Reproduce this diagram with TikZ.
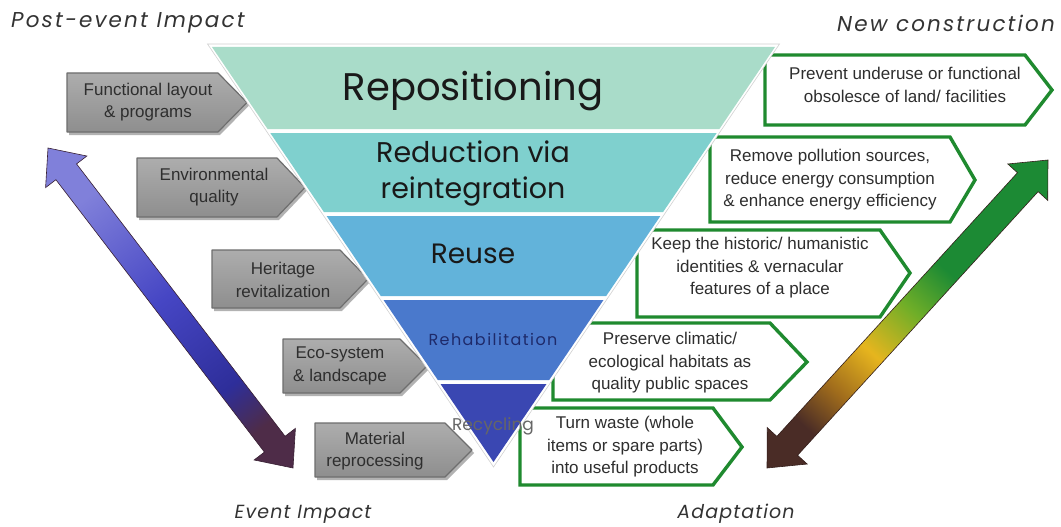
\documentclass[tikz,border=0pt]{standalone}
\usepackage{fontspec}
\setmainfont{Liberation Sans}
\newfontfamily\trifont{Poppins}
\newfontfamily\cornerfont{Poppins}
\usetikzlibrary{calc}
\definecolor{bandA}{HTML}{A9DCC9}
\definecolor{bandB}{HTML}{7FD0CE}
\definecolor{bandC}{HTML}{62B3DA}
\definecolor{bandD}{HTML}{4A79CC}
\definecolor{bandE}{HTML}{3A47B2}
\definecolor{grnline}{HTML}{1F8A2F}
\definecolor{grayfillA}{HTML}{ADADAD}
\definecolor{grayfillB}{HTML}{8E8E8E}
\definecolor{grayline}{HTML}{6E6E6E}
\definecolor{boxtext}{HTML}{2E2E2E}
\definecolor{larrA}{HTML}{8080DA}
\definecolor{larrB}{HTML}{4646C4}
\definecolor{larrC}{HTML}{2E2E9A}
\definecolor{larrD}{HTML}{4E2C48}
\definecolor{rarrA}{HTML}{1C8A34}
\definecolor{rarrB}{HTML}{6FAE28}
\definecolor{rarrC}{HTML}{E6B51E}
\definecolor{rarrD}{HTML}{A06C1C}
\definecolor{rarrE}{HTML}{4A2C26}
\definecolor{rehabtext}{HTML}{1E2A6A}
\pgfdeclareverticalshading{leftarr}{100bp}{color(0bp)=(larrD); color(24bp)=(larrD); color(33bp)=(larrC); color(52bp)=(larrB); color(74bp)=(larrA); color(100bp)=(larrA)}
\pgfdeclareverticalshading{rightarr}{100bp}{color(0bp)=(rarrE); color(24bp)=(rarrE); color(32bp)=(rarrD); color(41bp)=(rarrC); color(51bp)=(rarrB); color(60bp)=(rarrA); color(100bp)=(rarrA)}
\tikzset{
  graybox/.style={top color=grayfillA, bottom color=grayfillB, draw=grayline, line width=1.2pt, line join=round},
  grayshadow/.style={fill=black!30},
  greenbox/.style={fill=white, draw=grnline, line width=3.4pt, line join=miter},
  boxlabel/.style={font=\fontsize{17}{22.5}\selectfont, text=boxtext, align=center, inner sep=0pt},
  trilabel/.style={font=\trifont, text=black!90, inner sep=0pt, anchor=base},
  cornerlabel/.style={font=\cornerfont\itshape\fontsize{19}{22}\selectfont\addfontfeature{LetterSpace=6}, text=black!80, inner sep=0pt},
  bigcorner/.style={font=\cornerfont\itshape\fontsize{21.5}{24}\selectfont\addfontfeature{LetterSpace=10}, text=black!80, inner sep=0pt},
}
\begin{document}
\begin{tikzpicture}[x=1pt,y=-1pt]
\useasboundingbox (0,0) rectangle (1061,527);
\fill[white] (0,0) rectangle (1061,527);

% ---- double arrows ----
\coordinate (LA1) at (48,148);
\coordinate (LA2) at (293,468);
\coordinate (LH1) at ($(LA1)!30pt!(LA2)$);
\coordinate (LH2) at ($(LA2)!30pt!(LA1)$);
\shadedraw[shading=leftarr, shading angle=37.4, draw=larrD!70!black, line width=0.6pt, line join=miter]
  (LA1) -- ($(LH1)!26pt!90:(LA2)$) -- ($(LH1)!13pt!90:(LA2)$) -- ($(LH2)!13pt!-90:(LA1)$)
  -- ($(LH2)!26pt!-90:(LA1)$) -- (LA2) -- ($(LH2)!26pt!90:(LA1)$) -- ($(LH2)!13pt!90:(LA1)$)
  -- ($(LH1)!13pt!-90:(LA2)$) -- ($(LH1)!26pt!-90:(LA2)$) -- cycle;

\coordinate (RA1) at (1048,160);
\coordinate (RA2) at (767,468);
\coordinate (RH1) at ($(RA1)!30pt!(RA2)$);
\coordinate (RH2) at ($(RA2)!30pt!(RA1)$);
\shadedraw[shading=rightarr, shading angle=-42.4, draw=rarrE!70!black, line width=0.6pt, line join=miter]
  (RA1) -- ($(RH1)!27pt!90:(RA2)$) -- ($(RH1)!14pt!90:(RA2)$) -- ($(RH2)!14pt!-90:(RA1)$)
  -- ($(RH2)!27pt!-90:(RA1)$) -- (RA2) -- ($(RH2)!27pt!90:(RA1)$) -- ($(RH2)!14pt!90:(RA1)$)
  -- ($(RH1)!14pt!-90:(RA2)$) -- ($(RH1)!27pt!-90:(RA2)$) -- cycle;

% ---- green boxes (right) ----
\draw[greenbox] (765,55) -- (1025,55) -- (1052,90) -- (1025,125) -- (765,125) -- cycle;
\draw[greenbox] (710,137) -- (950,137) -- (975,180) -- (950,222) -- (710,222) -- cycle;
\draw[greenbox] (637,230) -- (880,230) -- (910,273) -- (880,317) -- (637,317) -- cycle;
\draw[greenbox] (553,323) -- (770,323) -- (807,362) -- (770,400) -- (553,400) -- cycle;
\draw[greenbox] (520,408) -- (713,408) -- (742,447) -- (713,485) -- (520,485) -- cycle;

% ---- gray boxes (left) ----
\foreach \l/\t/\b/\c/\p in {67/73/132/218/247, 137/158/217/277/305, 212/250/308/340/368, 283/339/393/400/427, 315/423/477/445/472}{
  \pgfmathsetmacro{\m}{(\t+\b)/2}
  \fill[grayshadow] (\l+2,\t+3) -- (\c+2,\t+3) -- (\p+2,\m+3) -- (\c+2,\b+3) -- (\l+2,\b+3) -- cycle;
  \draw[graybox] (\l,\t) -- (\c,\t) -- (\p,\m) -- (\c,\b) -- (\l,\b) -- cycle;
}

% ---- inverted triangle ----
\fill[white, draw=black!18, line width=0.6pt] (207.5,44) -- (779.5,44) -- (493.5,467) -- cycle;
\fill[bandA] (212,47) -- (775,47) -- (719.4,129) -- (267.6,129) -- cycle;
\fill[bandB] (270.3,133) -- (716.7,133) -- (663.1,212) -- (323.9,212) -- cycle;
\fill[bandC] (326.6,216) -- (660.4,216) -- (606.2,296) -- (380.8,296) -- cycle;
\fill[bandD] (383.5,300) -- (603.5,300) -- (549.2,380) -- (437.8,380) -- cycle;
\fill[bandE] (440.5,384) -- (546.5,384) -- (493.5,462) -- cycle;

% ---- triangle labels ----
\node[trilabel, font=\trifont\fontsize{38.5}{42}\selectfont] (repo) at (473,100) {Repositioning};
\node[trilabel, font=\trifont\fontsize{28.5}{30}\selectfont] (redu) at (473,162) {Reduction via};
\node[trilabel, font=\trifont\fontsize{28.5}{30}\selectfont] (rein) at (473,198) {reintegration};
\node[trilabel, font=\trifont\fontsize{28}{30}\selectfont] (reus) at (473,263) {Reuse};
\node[trilabel, font=\trifont\fontsize{16}{18}\selectfont\addfontfeature{LetterSpace=9}, text=rehabtext] (reha) at (493,345) {Rehabilitation};
\node[trilabel, font=\trifont\fontsize{17}{18}\selectfont, text=black!60] (recy) at (493,430) {Recycling};

% ---- gray box labels ----
\node[boxlabel] (g1) at (148,102) {Functional layout\\\& programs};
\node[boxlabel] (g2) at (214,187) {Environmental\\quality};
\node[boxlabel] (g3) at (283,280) {Heritage\\revitalization};
\node[boxlabel] (g4) at (340,366) {Eco-system\\\& landscape};
\node[boxlabel] (g5) at (375,451) {Material\\reprocessing};

% ---- green box labels ----
\node[boxlabel] (b1) at (905,85) {Prevent underuse or functional\\obsolesce of land/ facilities};
\node[boxlabel] (b2) at (830,180) {Remove pollution sources,\\reduce energy consumption\\\& enhance energy efficiency};
\node[boxlabel] (b3) at (760,268) {Keep the historic/ humanistic\\identities \& vernacular\\features of a place};
\node[boxlabel] (b4) at (670,363) {Preserve climatic/\\ecological habitats as\\quality public spaces};
\node[boxlabel] (b5) at (625,447) {Turn waste (whole\\items or spare parts)\\into useful products};

% ---- corner labels ----
\node[bigcorner, anchor=west] (pei) at (11,23) {Post-event Impact};
\node[bigcorner, anchor=east] (nc) at (1055,23) {New construction};
\node[cornerlabel] (ei) at (303,514) {Event Impact};
\node[cornerlabel] (ad) at (736,514) {Adaptation};
\end{tikzpicture}
\end{document}
